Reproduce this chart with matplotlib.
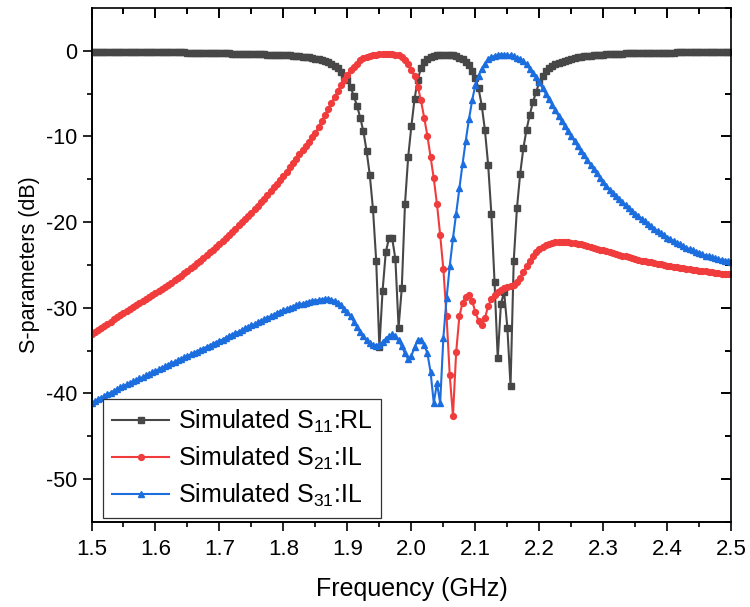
import numpy as np
import matplotlib
matplotlib.use('Agg')
import matplotlib.pyplot as plt
from matplotlib.ticker import FixedLocator, NullFormatter

plt.rcParams['font.family'] = ['Liberation Sans', 'DejaVu Sans']
plt.rcParams['mathtext.default'] = 'regular'
plt.rcParams['axes.unicode_minus'] = False

# frequency sweep, 1.5 - 2.5 GHz in 5 MHz steps
freq = np.round(np.arange(1.5, 2.5001, 0.005), 3)

# S11 (dB)
s11 = [
    -0.10, -0.10, -0.10, -0.10, -0.11, -0.11, -0.11, -0.11, -0.12, -0.12,
    -0.12, -0.12, -0.13, -0.13, -0.13, -0.14, -0.14, -0.14, -0.15, -0.15,
    -0.16, -0.16, -0.17, -0.17, -0.18, -0.18, -0.19, -0.19, -0.20, -0.20,
    -0.21, -0.21, -0.22, -0.23, -0.23, -0.24, -0.25, -0.26, -0.27, -0.28,
    -0.29, -0.30, -0.31, -0.32, -0.33, -0.34, -0.35, -0.36, -0.37, -0.38,
    -0.39, -0.40, -0.41, -0.42, -0.43, -0.44, -0.45, -0.46, -0.47, -0.49,
    -0.50, -0.52, -0.54, -0.57, -0.60, -0.64, -0.68, -0.73, -0.78, -0.85,
    -0.92, -1.00, -1.10, -1.22, -1.36, -1.55, -1.75, -2.05, -2.45, -2.90,
    -3.45, -4.25, -5.30, -6.40, -7.80, -9.40, -11.7, -14.5, -18.5, -24.5,
    -34.6, -28.0, -23.5, -21.9, -21.9, -24.3, -32.3, -27.7, -17.9, -12.4,
    -8.8, -5.6, -3.4, -2.0, -1.3, -0.95, -0.75, -0.62, -0.55, -0.50,
    -0.48, -0.48, -0.50, -0.55, -0.65, -0.80, -1.00, -1.30, -1.70, -2.40,
    -3.2, -4.4, -6.4, -9.3, -13.3, -19.0, -27.0, -35.9, -29.5, -28.2,
    -32.3, -39.1, -24.5, -18.4, -14.4, -11.4, -9.2, -7.5, -6.0, -4.8,
    -3.7, -2.9, -2.4, -2.05, -1.8, -1.6, -1.42, -1.27, -1.14, -1.03,
    -0.93, -0.85, -0.78, -0.72, -0.66, -0.61, -0.57, -0.53, -0.50, -0.47,
    -0.44, -0.42, -0.40, -0.38, -0.36, -0.35, -0.33, -0.32, -0.31, -0.30,
    -0.29, -0.28, -0.27, -0.26, -0.25, -0.25, -0.24, -0.23, -0.23, -0.22,
    -0.22, -0.21, -0.21, -0.20, -0.20, -0.19, -0.19, -0.19, -0.18, -0.18,
    -0.18, -0.17, -0.17, -0.17, -0.16, -0.16, -0.16, -0.16, -0.15, -0.15,
    -0.15,
]

# S21 (dB)
s21 = [
    -33.1, -32.85, -32.6, -32.35, -32.1, -31.85, -31.6, -31.35, -31.1, -30.85,
    -30.6, -30.37, -30.14, -29.9, -29.67, -29.44, -29.2, -28.97, -28.74, -28.5,
    -28.3, -28.05, -27.8, -27.55, -27.3, -27.05, -26.77, -26.5, -26.24, -25.97,
    -25.7, -25.4, -25.1, -24.8, -24.5, -24.2, -23.85, -23.5, -23.2, -22.85,
    -22.5, -22.15, -21.8, -21.45, -21.1, -20.75, -20.35, -20.0, -19.6, -19.25,
    -18.9, -18.5, -18.1, -17.7, -17.3, -16.85, -16.4, -15.95, -15.5, -15.05,
    -14.6, -14.1, -13.6, -13.1, -12.6, -12.1, -11.6, -11.1, -10.6, -10.1,
    -9.6, -8.9, -8.2, -7.5, -6.8, -6.1, -5.4, -4.7, -4.0, -3.4,
    -2.8, -2.3, -1.9, -1.5, -1.1, -0.85, -0.7, -0.6, -0.5, -0.45,
    -0.42, -0.4, -0.4, -0.4, -0.42, -0.45, -0.55, -0.75, -1.1, -1.6,
    -2.2, -3.0, -4.2, -5.8, -7.8, -9.9, -12.4, -14.9, -17.9, -21.5,
    -25.5, -31.0, -37.9, -42.6, -35.2, -31.0, -29.4, -28.7, -28.5, -29.2,
    -30.5, -31.5, -32.0, -31.2, -29.8, -29.0, -28.5, -28.1, -27.9, -27.7,
    -27.6, -27.5, -27.3, -27.0, -26.5, -25.8, -25.1, -24.5, -24.0, -23.5,
    -23.1, -22.9, -22.7, -22.55, -22.4, -22.35, -22.3, -22.3, -22.3, -22.35,
    -22.4, -22.45, -22.5, -22.6, -22.7, -22.8, -22.9, -23.0, -23.1, -23.2,
    -23.3, -23.4, -23.5, -23.6, -23.7, -23.8, -23.9, -24.0, -24.1, -24.2,
    -24.3, -24.4, -24.5, -24.55, -24.6, -24.7, -24.8, -24.85, -24.9, -25.0,
    -25.1, -25.15, -25.2, -25.25, -25.3, -25.4, -25.45, -25.5, -25.55, -25.6,
    -25.65, -25.7, -25.75, -25.8, -25.85, -25.9, -25.95, -26.0, -26.0, -26.05,
    -26.1,
]

# S31 (dB)
s31 = [
    -41.1, -40.9, -40.7, -40.5, -40.3, -40.1, -39.9, -39.7, -39.5, -39.3,
    -39.1, -38.95, -38.8, -38.6, -38.45, -38.25, -38.1, -37.9, -37.7, -37.55,
    -37.35, -37.2, -37.0, -36.85, -36.65, -36.5, -36.3, -36.15, -35.95, -35.8,
    -35.6, -35.45, -35.25, -35.1, -34.9, -34.75, -34.55, -34.4, -34.2, -34.05,
    -33.85, -33.7, -33.5, -33.3, -33.15, -32.95, -32.8, -32.6, -32.4, -32.25,
    -32.05, -31.9, -31.7, -31.5, -31.35, -31.15, -31.0, -30.8, -30.6, -30.45,
    -30.3, -30.15, -30.0, -29.85, -29.7, -29.6, -29.5, -29.4, -29.3, -29.2,
    -29.15, -29.1, -29.05, -29.0, -29.0, -29.05, -29.2, -29.4, -29.7, -30.1,
    -30.5, -31.0, -31.6, -32.2, -32.8, -33.3, -33.8, -34.1, -34.3, -34.4,
    -34.3, -34.0, -33.6, -33.3, -33.1, -33.3, -33.8, -34.5, -35.3, -36.0,
    -35.6, -34.6, -33.8, -33.7, -34.3, -35.3, -37.5, -41.1, -38.8, -41.1,
    -33.5, -28.9, -25.1, -21.9, -19.0, -16.0, -13.2, -10.5, -8.0, -5.8,
    -4.0, -2.9, -2.1, -1.5, -1.0, -0.75, -0.6, -0.5, -0.45, -0.45,
    -0.5, -0.55, -0.65, -0.8, -0.95, -1.2, -1.6, -2.1, -2.6, -3.1,
    -3.7, -4.35, -5.0, -5.65, -6.3, -6.95, -7.6, -8.2, -8.8, -9.4,
    -10.0, -10.55, -11.1, -11.65, -12.2, -12.75, -13.3, -13.8, -14.3, -14.8,
    -15.3, -15.75, -16.2, -16.6, -17.0, -17.35, -17.7, -18.05, -18.4, -18.7,
    -19.0, -19.3, -19.6, -19.9, -20.2, -20.5, -20.8, -21.05, -21.3, -21.55,
    -21.8, -22.0, -22.2, -22.4, -22.6, -22.8, -23.0, -23.15, -23.3, -23.45,
    -23.6, -23.75, -23.9, -24.0, -24.1, -24.2, -24.3, -24.4, -24.5, -24.55,
    -24.6,
]

labels = ['Simulated S$_{11}$:RL', 'Simulated S$_{21}$:IL', 'Simulated S$_{31}$:IL']

# tick positions
x_major = [1.5, 1.6, 1.7, 1.8, 1.9, 2.0, 2.1, 2.2, 2.3, 2.4, 2.5]
x_minor = [1.55, 1.65, 1.75, 1.85, 1.95, 2.05, 2.15, 2.25, 2.35, 2.45]
y_major = [-50, -40, -30, -20, -10, 0]
y_minor = [-55, -45, -35, -25, -15, -5, 5]

fig = plt.figure(figsize=(7.5, 6.07), dpi=100)
ax = fig.add_axes([0.122, 0.140, 0.853, 0.847])

ax.plot(freq, s11, color='#474747', lw=1.5, marker='s', ms=4.2, label=labels[0])
ax.plot(freq, s21, color='#f03c3c', lw=1.5, marker='o', ms=4.2, label=labels[1])
ax.plot(freq, s31, color='#1c6edf', lw=1.5, marker='^', ms=5.0, label=labels[2])

ax.set_xlim(1.5, 2.5)
ax.set_ylim(-55, 5)
for sp in ax.spines.values():
    sp.set_linewidth(1.2)

# main axes carries the inward ticks on top/right, no labels
ax.xaxis.set_ticks_position('top')
ax.yaxis.set_ticks_position('right')
ax.xaxis.set_major_locator(FixedLocator(x_major))
ax.xaxis.set_minor_locator(FixedLocator(x_minor))
ax.yaxis.set_major_locator(FixedLocator(y_major))
ax.yaxis.set_minor_locator(FixedLocator(y_minor))
ax.xaxis.set_major_formatter(NullFormatter())
ax.yaxis.set_major_formatter(NullFormatter())
ax.tick_params(which='both', direction='in', width=1.4, color='black',
               labeltop=False, labelright=False, labelbottom=False, labelleft=False)
ax.tick_params(which='major', length=7)
ax.tick_params(which='minor', length=4)

# bottom/left axes with outward ticks and the labels
bx = ax.secondary_xaxis('bottom')
bx.xaxis.set_major_locator(FixedLocator(x_major))
bx.xaxis.set_minor_locator(FixedLocator(x_minor))
bx.xaxis.set_major_formatter(plt.FuncFormatter(lambda v, p: f'{v:.1f}'))
bx.tick_params(axis='x', which='both', direction='out', width=1.2)
bx.tick_params(axis='x', which='major', length=6.5, labelsize=16, pad=6)
bx.tick_params(axis='x', which='minor', length=3.5)
bx.spines['bottom'].set_linewidth(1.2)
bx.set_xlabel('Frequency (GHz)', fontsize=18, labelpad=12)

ly = ax.secondary_yaxis('left')
ly.yaxis.set_major_locator(FixedLocator(y_major))
ly.yaxis.set_minor_locator(FixedLocator(y_minor[1:-1]))
ly.yaxis.set_major_formatter(plt.FuncFormatter(lambda v, p: f'{v:.0f}'))
ly.tick_params(axis='y', which='both', direction='out', width=1.2)
ly.tick_params(axis='y', which='major', length=6.5, labelsize=15.5, pad=4)
ly.tick_params(axis='y', which='minor', length=3.5)
ly.spines['left'].set_linewidth(1.2)
ly.set_ylabel('S-parameters (dB)', fontsize=15.5, labelpad=4)

leg = ax.legend(loc='lower left', bbox_to_anchor=(0.018, 0.008),
                borderaxespad=0, fontsize=18, numpoints=1, handlelength=2.3,
                handletextpad=0.35, labelspacing=0.4, borderpad=0.35, fancybox=False,
                framealpha=1, edgecolor='#333333')
leg.get_frame().set_linewidth(0.9)

fig.savefig('out.png', dpi=100)
